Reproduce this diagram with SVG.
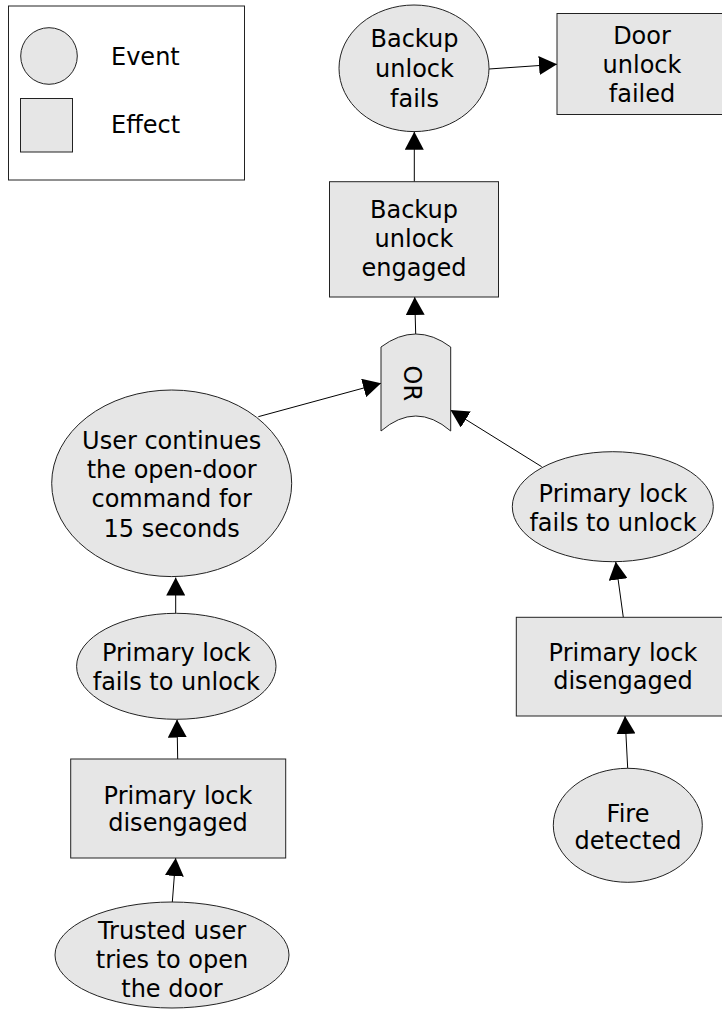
<svg xmlns="http://www.w3.org/2000/svg" width="722" height="1011" viewBox="0 0 722 1011">
  <style>
    .shape { fill: #e6e6e6; stroke: #222; stroke-width: 1; }
    .box { fill: #fff; stroke: #222; stroke-width: 1; }
    .lbl { font-family: "DejaVu Sans", "Liberation Sans", sans-serif; font-size: 24px; fill: #000; text-anchor: middle; }
    .leg { font-family: "DejaVu Sans", "Liberation Sans", sans-serif; font-size: 24px; fill: #000; }
    .edge { stroke: #000; stroke-width: 1; fill: none; marker-end: url(#arrow); }
  </style>
  <defs>
    <marker id="arrow" markerUnits="userSpaceOnUse" markerWidth="18" markerHeight="19" refX="18" refY="9.5" orient="auto">
      <path d="M0,0 L18,9.5 L0,19 Z" fill="#000"/>
    </marker>
  </defs>
  <rect width="722" height="1011" fill="#fff"/>

  <!-- legend -->
  <g id="legend">
    <rect class="box" x="8.5" y="6" width="236" height="174"/>
    <circle class="shape" cx="49" cy="56" r="28.3"/>
    <rect class="shape" x="20.5" y="98.5" width="52" height="53.5"/>
    <text class="leg" x="111" y="65">Event</text>
    <text class="leg" x="111" y="133">Effect</text>
  </g>

  <!-- connectors -->
  <g id="connectors">
    <line class="edge" x1="489" y1="69" x2="557" y2="64.3"/>
    <line class="edge" x1="414.3" y1="181.7" x2="414.3" y2="131.7"/>
    <line class="edge" x1="415.7" y1="334" x2="414.7" y2="297"/>
    <line class="edge" x1="258.3" y1="416.7" x2="381" y2="383.3"/>
    <line class="edge" x1="541.7" y1="466.7" x2="450.5" y2="410"/>
    <line class="edge" x1="623.3" y1="617.3" x2="615.7" y2="561.7"/>
    <line class="edge" x1="627.7" y1="768.3" x2="625" y2="716"/>
    <line class="edge" x1="175.7" y1="613" x2="175.7" y2="577.5"/>
    <line class="edge" x1="177.7" y1="759" x2="177" y2="719.5"/>
    <line class="edge" x1="172.3" y1="902.3" x2="175.7" y2="858"/>
  </g>

  <!-- events and effects -->
  <g id="backup-unlock-fails">
    <ellipse class="shape" cx="414" cy="68.3" rx="75" ry="63.3"/>
    <text class="lbl" x="414.5" y="47">Backup</text>
    <text class="lbl" x="414.5" y="77">unlock</text>
    <text class="lbl" x="414.5" y="107">fails</text>
  </g>

  <g id="door-unlock-failed">
    <rect class="shape" x="557" y="13.5" width="170" height="101"/>
    <text class="lbl" x="642" y="44">Door</text>
    <text class="lbl" x="642" y="73">unlock</text>
    <text class="lbl" x="642" y="102">failed</text>
  </g>

  <g id="backup-unlock-engaged">
    <rect class="shape" x="329.5" y="181.7" width="169" height="115.3"/>
    <text class="lbl" x="414" y="218">Backup</text>
    <text class="lbl" x="414" y="247">unlock</text>
    <text class="lbl" x="414" y="276">engaged</text>
  </g>

  <g id="or-gate">
    <path class="shape" d="M381,347 Q415.8,321 450.7,347 L450.7,431 Q415.8,401 381,431 Z"/>
    <text class="lbl" transform="translate(412,383.3) rotate(90)" y="8.5">OR</text>
  </g>

  <g id="user-continues">
    <ellipse class="shape" cx="171.7" cy="483.3" rx="120" ry="93.3"/>
    <text class="lbl" x="171.7" y="449">User continues</text>
    <text class="lbl" x="171.7" y="478">the open-door</text>
    <text class="lbl" x="171.7" y="507">command for</text>
    <text class="lbl" x="171.7" y="536.5">15 seconds</text>
  </g>

  <g id="left-lock-fails">
    <ellipse class="shape" cx="176.3" cy="666.3" rx="99.7" ry="53"/>
    <text class="lbl" x="176.3" y="661">Primary lock</text>
    <text class="lbl" x="176.3" y="689.5">fails to unlock</text>
  </g>

  <g id="left-lock-disengaged">
    <rect class="shape" x="70.7" y="759" width="215" height="99"/>
    <text class="lbl" x="178" y="804">Primary lock</text>
    <text class="lbl" x="178" y="831">disengaged</text>
  </g>

  <g id="trusted-user">
    <ellipse class="shape" cx="172" cy="955" rx="117" ry="53"/>
    <text class="lbl" x="172" y="939">Trusted user</text>
    <text class="lbl" x="172" y="968">tries to open</text>
    <text class="lbl" x="172" y="997">the door</text>
  </g>

  <g id="right-lock-fails">
    <ellipse class="shape" cx="612.8" cy="506.7" rx="100.5" ry="55"/>
    <text class="lbl" x="613" y="501.7">Primary lock</text>
    <text class="lbl" x="613" y="530.7">fails to unlock</text>
  </g>

  <g id="right-lock-disengaged">
    <rect class="shape" x="516.3" y="617.3" width="213" height="98.7"/>
    <text class="lbl" x="623" y="661">Primary lock</text>
    <text class="lbl" x="623" y="689">disengaged</text>
  </g>

  <g id="fire-detected">
    <ellipse class="shape" cx="627.8" cy="825.3" rx="74.5" ry="57"/>
    <text class="lbl" x="628" y="822">Fire</text>
    <text class="lbl" x="628" y="849">detected</text>
  </g>
</svg>
